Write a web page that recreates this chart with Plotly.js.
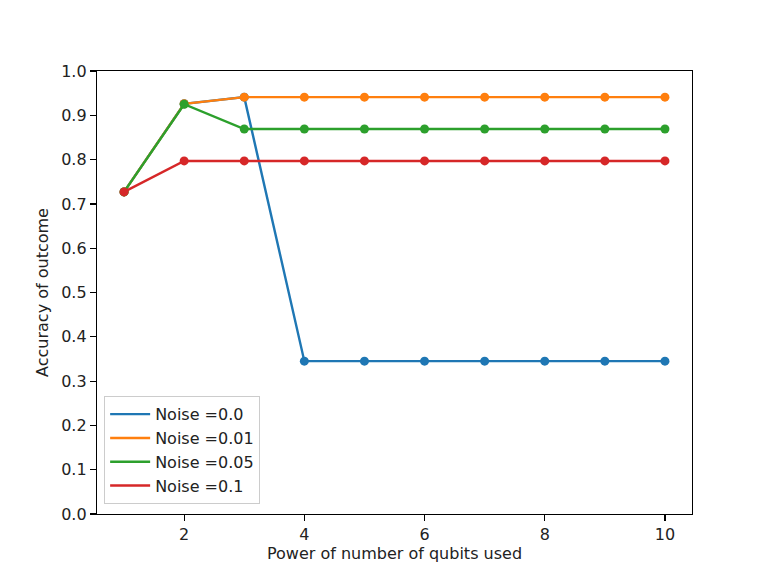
<!DOCTYPE html>
<html>
<head>
<meta charset="utf-8">
<script src="https://cdn.plot.ly/plotly-3.0.1.min.js"></script>
<style>html,body{margin:0;padding:0;background:#fff;}#chart{width:769px;height:577px;}</style>
</head>
<body>
<div id="chart"></div>
<script>
const qubitPowers = [1, 2, 3, 4, 5, 6, 7, 8, 9, 10];
const seriesNames = ["Noise =0.0", "Noise =0.01", "Noise =0.05", "Noise =0.1"];
const noise0 = [0.727, 0.926, 0.941, 0.345, 0.345, 0.345, 0.345, 0.345, 0.345, 0.345];
const noise001 = [0.727, 0.926, 0.941, 0.941, 0.941, 0.941, 0.941, 0.941, 0.941, 0.941];
const noise005 = [0.727, 0.925, 0.869, 0.869, 0.869, 0.869, 0.869, 0.869, 0.869, 0.869];
const noise01 = [0.727, 0.797, 0.797, 0.797, 0.797, 0.797, 0.797, 0.797, 0.797, 0.797];
const colors = ["#1f77b4", "#ff7f0e", "#2ca02c", "#d62728"];
const yTicks = [0, 0.1, 0.2, 0.3, 0.4, 0.5, 0.6, 0.7, 0.8, 0.9, 1.0];
const xTicks = [2, 4, 6, 8, 10];

const allSeries = [noise0, noise001, noise005, noise01];
const traces = [];
allSeries.forEach((vals, i) => {
  traces.push({
    x: qubitPowers, y: vals, type: "scatter", mode: "lines",
    name: seriesNames[i], line: {color: colors[i], width: 2.4}, showlegend: true
  });
  traces.push({
    x: qubitPowers, y: vals, type: "scatter", mode: "markers",
    name: seriesNames[i], marker: {color: colors[i], size: 9}, showlegend: false
  });
});

const FS = 16;
const axisCommon = {
  showline: true, linecolor: "#000", linewidth: 1.2, mirror: true,
  ticks: "outside", ticklen: 6, tickcolor: "#000", tickwidth: 1.2,
  showgrid: false, zeroline: false,
  tickfont: {family: "DejaVu Sans", size: FS, color: "#222"}
};

const layout = {
  width: 769, height: 577,
  margin: {l: 97, r: 77, t: 71, b: 63},
  paper_bgcolor: "#fff", plot_bgcolor: "#fff",
  font: {family: "DejaVu Sans", color: "#222"},
  xaxis: Object.assign({}, axisCommon, {
    range: [0.55, 10.45], tickvals: xTicks, ticktext: xTicks.map(String),
    title: {text: "Power of number of qubits used", font: {family: "DejaVu Sans", size: FS, color: "#222"}, standoff: 4}
  }),
  yaxis: Object.assign({}, axisCommon, {
    range: [0, 1], tickvals: yTicks, ticktext: yTicks.map(v => v.toFixed(1)),
    title: {text: "Accuracy of outcome", font: {family: "DejaVu Sans", size: FS, color: "#222"}, standoff: 8}
  }),
  legend: {
    x: 0.012, y: 0.022, xanchor: "left", yanchor: "bottom",
    bgcolor: "rgba(255,255,255,0.8)", bordercolor: "#ccc", borderwidth: 1,
    font: {family: "DejaVu Sans", size: FS, color: "#222"},
    tracegroupgap: 0, itemwidth: 40
  },
  showlegend: true
};

Plotly.newPlot("chart", traces, layout, {displayModeBar: false, staticPlot: true});
</script>
</body>
</html>
